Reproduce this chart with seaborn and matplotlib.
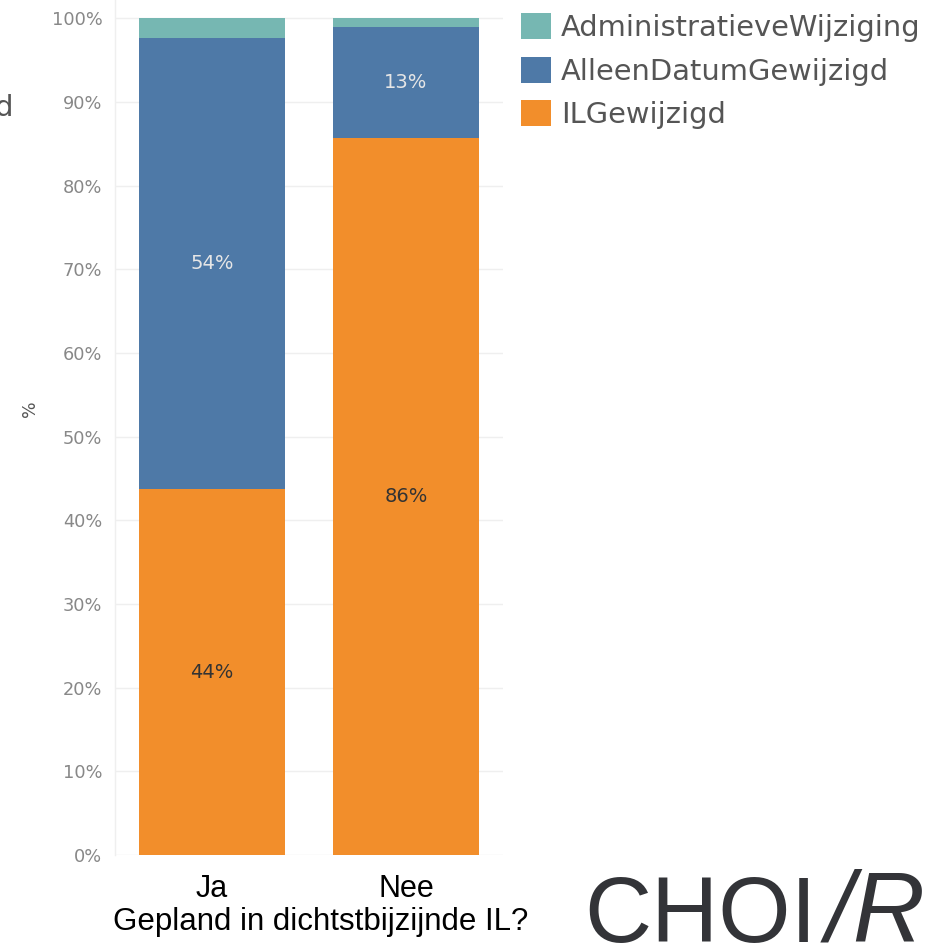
import matplotlib
matplotlib.use("Agg")
import matplotlib.pyplot as plt
from matplotlib.patches import Patch
import seaborn as sns
import pandas as pd
import numpy as np

categories = ["Ja", "Nee"]
series = ["ILGewijzigd", "AlleenDatumGewijzigd", "AdministratieveWijziging"]
il_gewijzigd = [43.7, 85.7]
alleen_datum = [54.0, 13.3]
administratief = [2.3, 1.0]
bar_labels = {"ILGewijzigd": ["44%", "86%"], "AlleenDatumGewijzigd": ["54%", "13%"]}
yticks = list(range(0, 101, 10))
ytick_labels = [f"{v}%" for v in yticks]

colors = {"ILGewijzigd": "#F28E2B", "AlleenDatumGewijzigd": "#4E79A7",
          "AdministratieveWijziging": "#76B7B2"}
label_colors = {"ILGewijzigd": "#333333", "AlleenDatumGewijzigd": "#E6E6E6"}

values = {"ILGewijzigd": il_gewijzigd, "AlleenDatumGewijzigd": alleen_datum,
          "AdministratieveWijziging": administratief}

sns.set_theme(style="white")
plt.rcParams["font.family"] = ["DejaVu Sans"]

W, H = 928, 943
fig = plt.figure(figsize=(W / 100, H / 100), dpi=100)
ax = fig.add_axes([115 / W, (H - 855) / H, (503 - 115) / W, 855 / H])

# stacked: draw cumulative tops first, then lower layers
bottoms = np.zeros(len(categories))
cum = {}
for s in series:
    cum[s] = (bottoms.copy(), bottoms + np.array(values[s]))
    bottoms = bottoms + np.array(values[s])

for s in reversed(series):
    df = pd.DataFrame({"cat": categories, "val": cum[s][1]})
    sns.barplot(data=df, x="cat", y="val", color=colors[s], saturation=1,
                width=0.75, ax=ax, edgecolor="none", linewidth=0)

for s, labs in bar_labels.items():
    lo, hi = cum[s]
    for i, lab in enumerate(labs):
        ax.text(i, (lo[i] + hi[i]) / 2, lab, ha="center", va="center",
                fontsize=14, color=label_colors[s])

ax.set_xlim(-0.5, 1.5)
ax.set_ylim(0, 102.2)
ax.set_yticks(yticks)
ax.set_yticklabels(ytick_labels, fontsize=12.8, color="#888888")
ax.yaxis.grid(True, color="#EFEFEF", linewidth=1)
ax.set_axisbelow(True)
for sp in ["top", "right", "bottom"]:
    ax.spines[sp].set_visible(False)
ax.spines["left"].set_color("#EFEFEF")
ax.spines["left"].set_linewidth(1)
ax.tick_params(axis="y", length=0, pad=9)
ax.tick_params(axis="x", length=0, pad=14)
ax.set_xticks([0, 1])
ax.set_xticklabels(categories, fontsize=22, color="black",
                   fontfamily="Liberation Sans")
ax.set_xlabel("Gepland in dichtstbijzijnde IL?", fontsize=22.5, color="black",
              fontfamily="Liberation Sans")
ax.xaxis.set_label_coords((321 - 115) / (503 - 115), -(922 - 855) / 855)
ax.xaxis.label.set_va("center")
ax.set_ylabel("")

fig.text(30 / W, 1 - 409 / H, "%", rotation=90, ha="center", va="center",
         fontsize=12.5, color="#555555")
fig.text(13 / W, 1 - 108 / H, "d", ha="right", va="center",
         fontsize=21, color="#555555")

handles = [Patch(facecolor=colors[s], edgecolor="none") for s in reversed(series)]
leg = fig.legend(handles, list(reversed(series)), loc="upper left",
                 bbox_to_anchor=(521 / W, 1 - 13 / H), frameon=False,
                 fontsize=20.8, handlelength=1.03, handleheight=1.03,
                 handletextpad=0.36, labelspacing=0.5, borderaxespad=0,
                 borderpad=0)
for t in leg.get_texts():
    t.set_color("#555555")

logo_font = ["Liberation Sans"]
logo_color = "#333438"
logo_base = 1 - 942 / H
fig.text(584 / W, logo_base, "CHOI", fontsize=67, color=logo_color,
         fontfamily=logo_font, ha="left", va="baseline")
fig.text(826 / W, logo_base, "/R", fontsize=72, color=logo_color,
         fontfamily=logo_font, style="italic", ha="left", va="baseline")

fig.savefig("out.png", dpi=100)
